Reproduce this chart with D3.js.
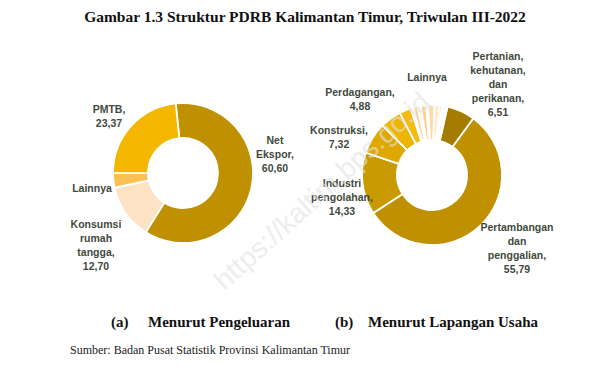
<!DOCTYPE html>
<html>
<head>
<meta charset="utf-8">
<script src="https://cdn.jsdelivr.net/npm/d3@7"></script>
<style>
  body { margin: 0; background: #fff; }
  svg { display: block; }
</style>
</head>
<body>
<svg id="chart" width="610" height="381"></svg>
<script>
// (a) menurut pengeluaran
const pengeluaranKat = ['Net Ekspor', 'Konsumsi rumah tangga', 'Lainnya', 'PMTB']
const pengeluaranVal = [60.60, 12.70, 3.33, 23.37]
const pengeluaranWarna = ['#bf9000', '#fde3c3', '#fac152', '#f3b700']

// (b) menurut lapangan usaha (lainnya dipecah jadi irisan kecil)
const lapanganKat = ['Pertanian', 'Pertambangan', 'Industri', 'Konstruksi', 'Perdagangan',
  'Transportasi', 'Akomodasi', 'Infokom', 'Keuangan', 'Real Estat', 'Jasa Perusahaan',
  'Administrasi', 'Pendidikan', 'Kesehatan', 'Jasa Lainnya', 'Listrik', 'Air']
const lapanganVal = [6.51, 55.79, 14.33, 7.32, 4.88,
  2.70, 0.55, 1.10, 0.70, 1.20, 0.45, 1.50, 1.20, 0.55, 0.65, 0.30, 0.27]
const lapanganWarna = ['#a67c00', '#bf9000', '#c99a00', '#dea800', '#efb400',
  '#f4bb12', '#fff3e2', '#fdd596', '#fde8cc', '#ffcf88', '#fff0dc', '#fcd9a6',
  '#ffe9cc', '#ffc97a', '#fff4e6', '#fde2bb', '#ffffff']

const labelPengeluaran = [
  { teks: ['Net', 'Ekspor,', '60,60'], x: 275, y: 140 },
  { teks: ['Konsumsi', 'rumah', 'tangga,', '12,70'], x: 96, y: 224 },
  { teks: ['Lainnya'], x: 92, y: 188 },
  { teks: ['PMTB,', '23,37'], x: 109, y: 109 }
]
const labelLapangan = [
  { teks: ['Pertanian,', 'kehutanan,', 'dan', 'perikanan,', '6,51'], x: 498, y: 56 },
  { teks: ['Pertambangan', 'dan', 'penggalian,', '55,79'], x: 517, y: 227 },
  { teks: ['Industri', 'pengolahan,', '14,33'], x: 342, y: 183 },
  { teks: ['Konstruksi,', '7,32'], x: 339, y: 130 },
  { teks: ['Perdagangan,', '4,88'], x: 360, y: 92 },
  { teks: ['Lainnya'], x: 427, y: 77 }
]

const svg = d3.select('#chart')

const drawDonut = (cx, cy, values, colors, startDeg) => {
    const start = startDeg * Math.PI / 180
    const pie = d3.pie().sort(null).startAngle(start).endAngle(start + 2 * Math.PI)
    const arc = d3.arc().innerRadius(35).outerRadius(70)
    svg.append('g')
        .attr('transform', `translate(${cx},${cy})`)
        .selectAll('path')
        .data(pie(values))
        .enter().append('path')
        .attr('d', arc)
        .attr('fill', (d, i) => colors[i])
        .attr('stroke', '#fff')
        .attr('stroke-width', 1.8)
}

const drawLabels = (labels) => {
    labels.forEach(l => {
        const t = svg.append('text')
            .attr('text-anchor', 'middle')
            .attr('font-family', 'Liberation Sans, Arial, sans-serif')
            .attr('font-weight', 'bold')
            .attr('font-size', 10.5)
            .attr('fill', '#3f4a3c')
        l.teks.forEach((s, i) => {
            t.append('tspan').attr('x', l.x).attr('y', l.y + 4 + i * 14).text(s)
        })
    })
}

drawDonut(183, 173, pengeluaranVal, pengeluaranWarna, -6)
drawDonut(432, 175, lapanganVal, lapanganWarna, 12.8)
drawLabels(labelPengeluaran)
drawLabels(labelLapangan)

// judul
svg.append('text')
    .attr('x', 305).attr('y', 22)
    .attr('text-anchor', 'middle')
    .attr('font-family', 'Liberation Serif, Times New Roman, serif')
    .attr('font-weight', 'bold')
    .attr('font-size', 15.5)
    .attr('fill', '#111')
    .text('Gambar 1.3 Struktur PDRB Kalimantan Timur, Triwulan III-2022')

const sub = [
    { teks: '(a)', x: 111 }, { teks: 'Menurut Pengeluaran', x: 148 },
    { teks: '(b)', x: 335 }, { teks: 'Menurut Lapangan Usaha', x: 368 }
]
svg.selectAll('text.sub')
    .data(sub)
    .enter().append('text')
    .attr('class', 'sub')
    .attr('x', d => d.x).attr('y', 327)
    .attr('font-family', 'Liberation Serif, Times New Roman, serif')
    .attr('font-weight', 'bold')
    .attr('font-size', 15)
    .attr('fill', '#111')
    .text(d => d.teks)

svg.append('text')
    .attr('x', 70).attr('y', 354)
    .attr('font-family', 'Liberation Serif, Times New Roman, serif')
    .attr('font-size', 12)
    .attr('fill', '#222')
    .text('Sumber: Badan Pusat Statistik Provinsi Kalimantan Timur')

// watermark
svg.append('text')
    .attr('transform', 'translate(328,198) rotate(-42)')
    .attr('text-anchor', 'middle')
    .attr('font-family', 'Liberation Sans, Arial, sans-serif')
    .attr('font-size', 28)
    .attr('fill', '#e2e2e2')
    .attr('opacity', 0.6)
    .text('https://kaltim.bps.go.id')
</script>
</body>
</html>
